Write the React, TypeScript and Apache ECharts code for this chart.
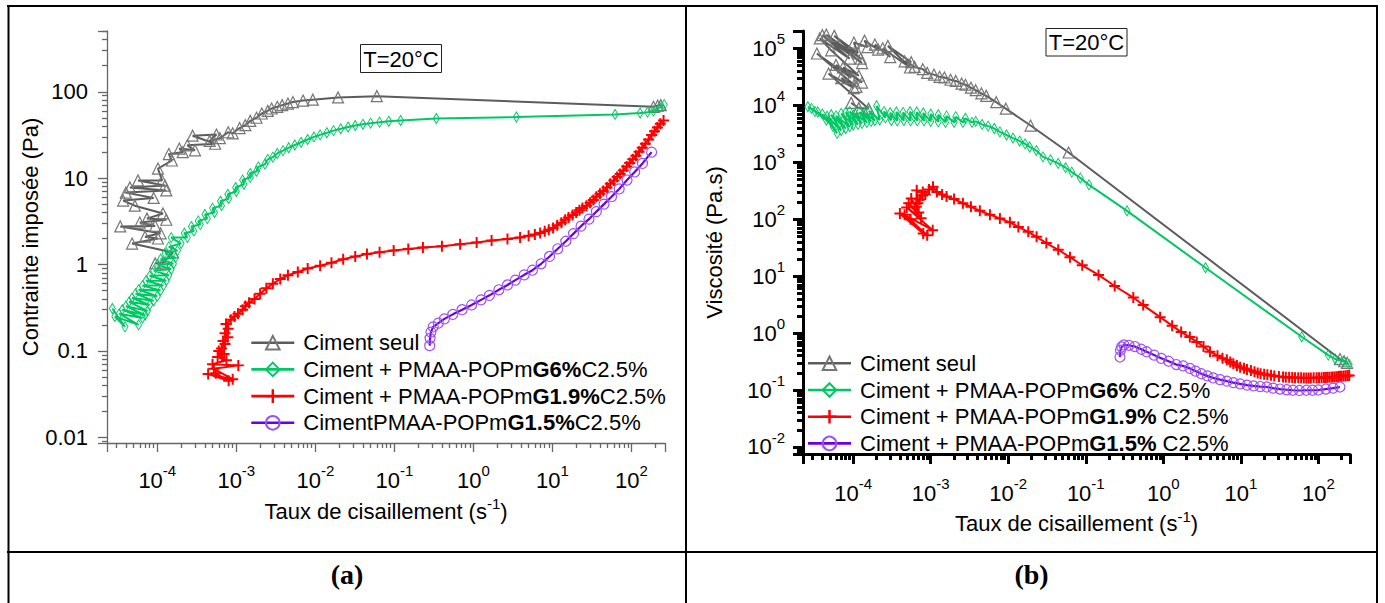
import React, { useEffect, useRef } from "react";
import * as echarts from "echarts";

// ---------------- data ----------------
const stressLegend = [
  "Ciment seul",
  "Ciment + PMAA-POPmG6%C2.5%",
  "Ciment + PMAA-POPmG1.9%C2.5%",
  "CimentPMAA-POPmG1.5%C2.5%",
];
const viscLegend = [
  "Ciment seul",
  "Ciment + PMAA-POPmG6% C2.5%",
  "Ciment + PMAA-POPmG1.9% C2.5%",
  "Ciment + PMAA-POPmG1.5% C2.5%",
];
const stressTickLabels = ["0.01", "0.1", "1", "10", "100"]; // 10^-2 .. 10^2
const xAxisTitle = "Taux de cisaillement (s";
const xAxisTitleSup = "-1";
const stressAxisTitle = "Contrainte imposée (Pa)";
const viscAxisTitle = "Viscosité (Pa.s)";
const tempLabel = "T=20°C";
const captions = ["(a)", "(b)"];

// shear rate (1/s), stress (Pa)
const stressCimentSeul: [number, number][] = [
  [9.4e-5, 1.03], [1.18e-4, 1.05], [1.58e-4, 1.38], [4.8e-5, 1.75], [1.02e-4, 2.0], [7.0e-5, 2.1],
  [1.1e-4, 2.3], [3.4e-5, 2.76], [9.4e-5, 2.8], [6.0e-5, 3.06], [1.3e-4, 3.3], [7.4e-5, 3.4],
  [1.18e-4, 3.9], [5.2e-5, 4.8], [3.7e-5, 5.5], [9.0e-5, 5.9], [4.0e-5, 6.8], [1.3e-4, 7.2],
  [4.5e-5, 7.8], [1.25e-4, 8.2], [5.7e-5, 9.4], [1.15e-4, 9.4], [1.02e-4, 12.9], [1.53e-4, 16],
  [1.4e-4, 19], [2.1e-4, 20], [1.9e-4, 22], [3.0e-4, 21], [2.4e-4, 24], [5.4e-4, 25],
  [2.8e-4, 31], [5.6e-4, 32], [4.6e-4, 27], [6.2e-4, 29], [7.9e-4, 34], [9.0e-4, 33],
  [1.1e-3, 38], [1.3e-3, 41], [1.5e-3, 46], [1.8e-3, 50], [2.1e-3, 56], [2.5e-3, 60],
  [2.8e-3, 64], [3.3e-3, 67], [3.8e-3, 70], [4.5e-3, 73], [5.2e-3, 76], [7.0e-3, 79],
  [9.3e-3, 81], [0.0194, 86], [0.06, 89], [190, 67], [215, 69], [235, 70],
];
const stressG6: [number, number][] = [
  [2.7e-5, 0.31], [3.9e-5, 0.19], [2.9e-5, 0.25], [5.8e-5, 0.2], [3.3e-5, 0.27], [6.5e-5, 0.24],
  [3.6e-5, 0.3], [7.0e-5, 0.26], [4.0e-5, 0.33], [7.5e-5, 0.29], [4.4e-5, 0.37], [8.0e-5, 0.34],
  [4.8e-5, 0.41], [9.0e-5, 0.38], [5.3e-5, 0.46], [1.0e-4, 0.43], [5.8e-5, 0.51], [1.1e-4, 0.5],
  [6.5e-5, 0.57], [1.2e-4, 0.57], [7.2e-5, 0.65], [1.3e-4, 0.65], [8.0e-5, 0.74], [1.4e-4, 0.75],
  [9.0e-5, 0.85], [1.5e-4, 0.88], [1.0e-4, 1.0], [1.6e-4, 1.02], [1.1e-4, 1.15], [1.7e-4, 1.2],
  [1.25e-4, 1.35], [1.8e-4, 1.45], [1.4e-4, 1.6], [2.0e-4, 1.75], [1.5e-4, 2.05], [2.4e-4, 2.05],
  [2.2e-4, 2.3], [2.9e-4, 2.45], [2.7e-4, 2.75], [3.5e-4, 2.9], [3.3e-4, 3.2], [4.3e-4, 3.4],
  [4.0e-4, 3.8], [5.3e-4, 4.0], [5.0e-4, 4.5], [6.5e-4, 4.8], [6.3e-4, 5.4], [8.0e-4, 5.8],
  [7.8e-4, 6.5], [1.0e-3, 7.0], [9.8e-4, 7.8], [1.25e-3, 8.5], [1.2e-3, 9.5], [1.5e-3, 10.2],
  [1.5e-3, 11.3], [1.8e-3, 12.0], [1.9e-3, 13.5], [2.3e-3, 14.5], [2.5e-3, 16.5], [2.9e-3, 17.5],
  [3.3e-3, 19.3], [3.9e-3, 20.8], [4.6e-3, 22.5], [5.5e-3, 24.2], [6.6e-3, 26], [8.0e-3, 28],
  [9.6e-3, 30], [0.0115, 31.7], [0.014, 33.5], [0.017, 35.5], [0.021, 37.3], [0.026, 39],
  [0.032, 40.7], [0.04, 42], [0.05, 43.3], [0.065, 44.5], [0.085, 45.5], [0.12, 46.5],
  [0.34, 49], [3.5, 51], [62, 54.6], [129, 56.7], [160, 58], [190, 60], [230, 66], [260, 71],
];
const stressG19: [number, number][] = [
  [5.5e-4, 0.055], [8.0e-4, 0.045], [4.4e-4, 0.054], [9.0e-4, 0.047], [5.2e-4, 0.062], [1.06e-3, 0.068],
  [5.0e-4, 0.07], [7.5e-4, 0.078], [5.8e-4, 0.085], [7.0e-4, 0.092], [6.0e-4, 0.1], [6.5e-4, 0.107],
  [7.2e-4, 0.12], [6.8e-4, 0.13], [7.8e-4, 0.144], [7.2e-4, 0.16], [7.9e-4, 0.18], [7.4e-4, 0.205],
  [8.5e-4, 0.23], [9.5e-4, 0.25], [1.05e-3, 0.27], [1.2e-3, 0.3], [1.3e-3, 0.33], [1.45e-3, 0.36],
  [1.7e-3, 0.4], [2.0e-3, 0.46], [2.4e-3, 0.53], [2.9e-3, 0.6], [3.6e-3, 0.68], [4.5e-3, 0.75],
  [6.0e-3, 0.82], [8.0e-3, 0.9], [0.0115, 0.97], [0.016, 1.05], [0.0225, 1.15], [0.032, 1.24],
  [0.045, 1.32], [0.065, 1.39], [0.098, 1.45], [0.15, 1.51], [0.23, 1.57], [0.4, 1.63],
  [0.68, 1.72], [1.1, 1.8], [1.7, 1.9], [2.7, 1.98], [3.9, 2.05], [5.0, 2.15], [6.0, 2.23],
  [7.0, 2.32], [8.0, 2.42], [9.0, 2.52], [10.2, 2.65], [11.5, 2.85], [13, 3.05], [14.5, 3.3],
  [16, 3.5], [18, 3.75], [20, 4.0], [22, 4.25], [24, 4.5], [27, 4.8], [30, 5.2], [33, 5.6],
  [36, 6.1], [40, 6.6], [44, 7.1], [49, 7.8], [54, 8.6], [60, 9.4], [66, 10.3], [72, 11.2],
  [79, 12.3], [87, 13.6], [95, 15], [104, 16.5], [114, 18.2], [125, 20.2], [137, 22.5],
  [150, 25], [165, 28], [180, 31.5], [196, 35], [213, 38.5], [232, 42.5], [255, 46.5],
];
const stressG15: [number, number][] = [
  [0.28, 0.115], [0.283, 0.14], [0.29, 0.165], [0.31, 0.19], [0.36, 0.21], [0.43, 0.235],
  [0.55, 0.265], [0.72, 0.3], [0.95, 0.34], [1.25, 0.39], [1.6, 0.44], [2.1, 0.51], [2.7, 0.58],
  [3.4, 0.66], [4.4, 0.76], [5.6, 0.86], [7.2, 1.02], [9.2, 1.24], [11.7, 1.52], [14.8, 1.86],
  [18.5, 2.28], [23, 2.78], [29, 3.35], [36, 4.1], [45, 5.0], [56, 6.1], [70, 7.5], [88, 9.5],
  [110, 11.8], [138, 14.8], [180, 20],
];

// shear rate (1/s), viscosity (Pa.s)
const viscCimentSeul: [number, number][] = [
  [9.4e-5, 1.1e4], [1.18e-4, 8.9e3], [1.58e-4, 8.7e3], [4.8e-5, 3.6e4], [1.02e-4, 2.0e4], [7.0e-5, 3.0e4],
  [1.1e-4, 2.1e4], [3.4e-5, 8.1e4], [9.4e-5, 3.0e4], [6.0e-5, 5.1e4], [1.3e-4, 2.5e4], [7.4e-5, 4.6e4],
  [1.18e-4, 3.3e4], [5.2e-5, 9.2e4], [3.7e-5, 1.49e5], [9.0e-5, 6.6e4], [4.0e-5, 1.7e5], [1.3e-4, 5.5e4],
  [4.5e-5, 1.73e5], [1.25e-4, 6.6e4], [5.7e-5, 1.65e5], [1.15e-4, 8.2e4], [1.02e-4, 1.26e5], [1.53e-4, 1.05e5],
  [1.4e-4, 1.36e5], [2.1e-4, 9.5e4], [1.9e-4, 1.16e5], [3.0e-4, 7.0e4], [2.4e-4, 1.0e5], [5.4e-4, 4.6e4],
  [2.8e-4, 1.1e5], [5.6e-4, 5.7e4], [4.6e-4, 5.9e4], [6.2e-4, 4.7e4], [7.9e-4, 4.3e4], [9.0e-4, 3.7e4],
  [1.1e-3, 3.45e4], [1.3e-3, 3.15e4], [1.5e-3, 3.07e4], [1.8e-3, 2.8e4], [2.1e-3, 2.67e4], [2.5e-3, 2.4e4],
  [2.8e-3, 2.29e4], [3.3e-3, 2.03e4], [3.8e-3, 1.84e4], [4.5e-3, 1.62e4], [5.2e-3, 1.46e4], [7.0e-3, 1.13e4],
  [9.3e-3, 8.7e3], [0.0194, 4.4e3], [0.06, 1.48e3], [190, 0.35], [215, 0.32], [235, 0.3],
];
const viscG6: [number, number][] = [
  [2.6e-5, 9.4e3], [3.2e-5, 7.8e3], [2.9e-5, 8.8e3], [4.5e-5, 5.5e3], [3.5e-5, 7.6e3], [5.5e-5, 4.2e3],
  [4.0e-5, 7.0e3], [6.2e-5, 3.2e3], [4.6e-5, 6.4e3], [7.0e-5, 3.6e3], [5.2e-5, 6.8e3], [8.0e-5, 3.9e3],
  [6.0e-5, 6.5e3], [9.0e-5, 4.2e3], [7.0e-5, 7.2e3], [1.0e-4, 4.5e3], [8.0e-5, 7.5e3], [1.15e-4, 4.6e3],
  [9.0e-5, 7.8e3], [1.3e-4, 4.8e3], [1.05e-4, 7.2e3], [1.5e-4, 5.0e3], [1.2e-4, 7.6e3], [1.7e-4, 5.2e3],
  [1.4e-4, 7.4e3], [1.9e-4, 5.4e3], [1.6e-4, 8.0e3], [2.2e-4, 5.5e3], [2.0e-4, 9.8e3], [2.6e-4, 6.0e3],
  [2.5e-4, 7.8e3], [3.1e-4, 5.4e3], [3.0e-4, 7.4e3], [3.7e-4, 5.3e3], [3.6e-4, 7.6e3], [4.5e-4, 5.4e3],
  [4.4e-4, 7.5e3], [5.5e-4, 5.3e3], [5.4e-4, 7.7e3], [6.7e-4, 5.3e3], [6.6e-4, 7.6e3], [8.2e-4, 5.3e3],
  [8.0e-4, 7.3e3], [1.0e-3, 5.2e3], [1.0e-3, 7.0e3], [1.25e-3, 5.1e3], [1.25e-3, 6.8e3], [1.55e-3, 5.0e3],
  [1.6e-3, 6.5e3], [2.0e-3, 5.0e3], [2.1e-3, 6.3e3], [2.6e-3, 5.0e3], [2.8e-3, 5.9e3], [3.4e-3, 5.0e3],
  [3.8e-3, 5.2e3], [4.6e-3, 4.6e3], [5.5e-3, 4.3e3], [6.6e-3, 3.9e3], [7.8e-3, 3.4e3], [9.5e-3, 3.0e3],
  [0.0115, 2.65e3], [0.014, 2.35e3], [0.0165, 2.1e3], [0.0189, 1.85e3], [0.023, 1.6e3], [0.028, 1.24e3],
  [0.035, 1.1e3], [0.044, 950], [0.055, 800], [0.066, 670], [0.085, 530], [0.11, 400], [0.34, 140],
  [3.5, 14], [61, 0.86], [134, 0.41], [165, 0.35], [210, 0.32], [250, 0.28],
];
const viscG19: [number, number][] = [
  [5.5e-4, 100], [8.0e-4, 56], [4.0e-4, 126], [9.0e-4, 52], [4.6e-4, 119], [1.06e-3, 64],
  [4.9e-4, 160], [7.5e-4, 104], [5.2e-4, 190], [7.0e-4, 131], [5.6e-4, 230], [6.5e-4, 165],
  [6.6e-4, 320], [6.8e-4, 191], [7.8e-4, 260], [7.2e-4, 222], [7.9e-4, 300], [8.5e-4, 270],
  [9.5e-4, 330], [1.07e-3, 370], [1.2e-3, 300], [1.4e-3, 270], [1.6e-3, 250], [2.0e-3, 225],
  [2.6e-3, 190], [3.3e-3, 165], [4.3e-3, 140], [5.8e-3, 120], [7.8e-3, 103], [0.0105, 88],
  [0.0135, 73], [0.0181, 60], [0.0232, 49], [0.031, 38], [0.0441, 29], [0.0625, 21.5],
  [0.09, 15.5], [0.146, 10.5], [0.236, 6.7], [0.41, 4.2], [0.55, 3.1], [0.91, 1.9], [1.3, 1.35],
  [1.7, 1.04], [2.2, 0.85], [2.7, 0.7], [3.3, 0.58], [4.0, 0.47], [5.0, 0.4], [5.8, 0.36],
  [6.6, 0.34], [7.3, 0.31], [8.0, 0.29], [8.9, 0.27], [9.8, 0.25], [11, 0.24], [12, 0.23],
  [13.5, 0.22], [15, 0.21], [16.5, 0.2], [18, 0.194], [20, 0.189], [22, 0.185], [24.5, 0.181],
  [27, 0.177], [31, 0.173], [35, 0.17], [38, 0.168], [42, 0.167], [46, 0.166], [50, 0.165],
  [55, 0.164], [60, 0.164], [65, 0.163], [70, 0.163], [75, 0.163], [80, 0.163], [87, 0.164],
  [95, 0.164], [102, 0.165], [110, 0.165], [118, 0.166], [125, 0.166], [132, 0.167], [140, 0.168],
  [150, 0.169], [160, 0.17], [170, 0.171], [180, 0.172], [190, 0.174], [200, 0.175], [212, 0.177],
  [225, 0.178], [238, 0.179], [250, 0.18],
];
const viscG15: [number, number][] = [
  [0.276, 0.38], [0.28, 0.5], [0.29, 0.57], [0.31, 0.62], [0.36, 0.61], [0.43, 0.58], [0.52, 0.52],
  [0.61, 0.47], [0.76, 0.41], [0.94, 0.36], [1.17, 0.32], [1.47, 0.28], [1.8, 0.265], [2.2, 0.24],
  [2.6, 0.215], [3.1, 0.193], [3.7, 0.177], [4.4, 0.163], [5.4, 0.152], [6.6, 0.143], [8.0, 0.135],
  [9.8, 0.128], [12, 0.122], [14.6, 0.118], [17.8, 0.115], [21.6, 0.113], [26, 0.108], [32, 0.104],
  [39, 0.101], [47, 0.099], [57, 0.098], [70, 0.099], [84, 0.099], [100, 0.1], [125, 0.104],
  [155, 0.108], [190, 0.113],
];

// ---------------- styling ----------------
const FONT = '"Liberation Sans", Arial, sans-serif';
const SERIF = '"Liberation Serif", "Times New Roman", serif';
const GRAY = "#5c5c5c";
const GRAY_MK = "#767676";
const GREEN = "#00c864";
const RED = "#ff0000";
const PURPLE = "#6a00e4";
const PURPLE_MK = "#9b52f4";
const PLUS = "path://M4.1 0H5.9V4.1H10V5.9H5.9V10H4.1V5.9H0V4.1H4.1Z";

const isPow = (v: number) => Math.abs(Math.log10(v) - Math.round(Math.log10(v))) < 1e-6;
const expOf = (v: number) => Math.round(Math.log10(v));

const supRich = {
  b: { fontFamily: FONT, fontSize: 22, lineHeight: 34, color: "#000" },
  s: { fontFamily: FONT, fontSize: 15, lineHeight: 15, verticalAlign: "top", color: "#000" },
};
const supFormatter = (v: number) => (isPow(v) ? `{b|10}{s|${expOf(v)}}` : "");

const nameRich = {
  t: { fontFamily: FONT, fontSize: 22, lineHeight: 30, color: "#000" },
  s: { fontFamily: FONT, fontSize: 15, lineHeight: 15, verticalAlign: "top", color: "#000" },
};
const xName = `{t|${xAxisTitle}}{s|${xAxisTitleSup}}{t|)}`;

const legendRich = (name: string) => {
  const m = name.match(/^(.*?)(G[\d.]+%)(.*)$/);
  if (!m) return `{n|${name}}`;
  return `{n|${m[1]}}{b|${m[2]}}{n|${m[3]}}`;
};

function axisStyle(color: string, width: number, major: number, minor: number) {
  return {
    axisLine: { show: true, onZero: false, lineStyle: { color, width } },
    axisTick: { show: true, inside: false, length: major, lineStyle: { color, width } },
    minorTick: { show: true, splitNumber: 9, length: minor, lineStyle: { color, width } },
    splitLine: { show: false },
    minorSplitLine: { show: false },
  };
}

function mkSeries(name: string, data: [number, number][], idx: number, kind: string) {
  const base: any = {
    type: "line",
    name,
    data,
    xAxisIndex: idx,
    yAxisIndex: idx,
    silent: true,
    animation: false,
    emphasis: { disabled: true },
    showSymbol: true,
  };
  if (kind === "tri") {
    return { ...base, symbol: "triangle", symbolSize: 11, lineStyle: { color: GRAY, width: 2 },
      itemStyle: { color: "rgba(255,255,255,0)", borderColor: GRAY_MK, borderWidth: 1.2 }, z: 2 };
  }
  if (kind === "dia") {
    return { ...base, symbol: "diamond", symbolSize: [6, 10], lineStyle: { color: GREEN, width: 2 },
      itemStyle: { color: "rgba(255,255,255,0)", borderColor: GREEN, borderWidth: 1 }, z: 3 };
  }
  if (kind === "plus") {
    return { ...base, symbol: PLUS, symbolSize: 11, lineStyle: { color: RED, width: 2 },
      itemStyle: { color: RED, borderWidth: 0 }, z: 4 };
  }
  return { ...base, symbol: "circle", symbolSize: 10, lineStyle: { color: PURPLE, width: 2.2 },
    itemStyle: { color: "rgba(255,255,255,0)", borderColor: PURPLE_MK, borderWidth: 1.2 }, z: 5 };
}

export default function App() {
  const ref = useRef<HTMLDivElement>(null);
  useEffect(() => {
    if (!ref.current) return;
    const chart = echarts.init(ref.current, undefined, { renderer: "svg" });
    const legendText = {
      fontFamily: FONT,
      fontSize: 22,
      color: "#000",
      lineHeight: 22,
      padding: [0, 0, 0, 4],
      rich: {
        n: { fontFamily: FONT, fontSize: 22, lineHeight: 22, color: "#000" },
        b: { fontFamily: FONT, fontSize: 22, lineHeight: 22, fontWeight: "bold", color: "#000" },
      },
    };
    const line = (x1: number, y1: number, x2: number, y2: number) => ({
      type: "line",
      shape: { x1, y1, x2, y2 },
      style: { stroke: "#000", lineWidth: 2 },
      silent: true,
    });
    const option: any = {
      animation: false,
      backgroundColor: "#fff",
      grid: [
        { left: 107, top: 31, width: 558, height: 412, outerBoundsMode: "none", containLabel: false },
        { left: 803, top: 31, width: 547, height: 423, outerBoundsMode: "none", containLabel: false },
      ],
      xAxis: [
        {
          type: "log", logBase: 10, gridIndex: 0, min: 2.31e-5, max: 266,
          ...axisStyle("#666", 1.3, 9, 5),
          axisLabel: { formatter: supFormatter, rich: supRich, margin: 20, showMinLabel: false, showMaxLabel: false },
          name: xName, nameLocation: "middle", nameGap: 53, nameTextStyle: { rich: nameRich },
        },
        {
          type: "log", logBase: 10, gridIndex: 1, min: 2.25e-5, max: 256,
          ...axisStyle("#000", 3, 10, 6),
          axisLabel: { formatter: supFormatter, rich: supRich, margin: 22, showMinLabel: false, showMaxLabel: false },
          name: xName, nameLocation: "middle", nameGap: 52, nameTextStyle: { rich: nameRich },
        },
      ],
      yAxis: [
        {
          type: "log", logBase: 10, gridIndex: 0, min: 0.00859, max: 505,
          ...axisStyle("#666", 1.3, 9, 5),
          axisLabel: {
            formatter: (v: number) => (isPow(v) ? stressTickLabels[expOf(v) + 2] ?? "" : ""),
            fontFamily: FONT, fontSize: 22, color: "#000", margin: 19,
            showMinLabel: false, showMaxLabel: false,
          },
          name: stressAxisTitle, nameLocation: "middle", nameGap: 59,
          nameTextStyle: { fontFamily: FONT, fontSize: 22, color: "#000" },
        },
        {
          type: "log", logBase: 10, gridIndex: 1, min: 0.00753, max: 2.01e5,
          ...axisStyle("#000", 3, 10, 6),
          axisLabel: { formatter: supFormatter, rich: supRich, margin: 18, showMinLabel: false, showMaxLabel: false },
          name: viscAxisTitle, nameLocation: "middle", nameGap: 78,
          nameTextStyle: { fontFamily: FONT, fontSize: 22, color: "#000" },
        },
      ],
      legend: [
        {
          orient: "vertical", left: 250, top: 331.7, padding: 0, itemGap: 4.7,
          itemWidth: 43, itemHeight: 17, selectedMode: false, data: stressLegend,
          formatter: legendRich, textStyle: legendText, lineStyle: { width: 2.6 },
        },
        {
          orient: "vertical", left: 806.7, top: 352.3, padding: 0, itemGap: 4.7,
          itemWidth: 43, itemHeight: 17, selectedMode: false, data: viscLegend,
          formatter: legendRich, textStyle: legendText, lineStyle: { width: 2.6 },
        },
      ],
      series: [
        mkSeries(stressLegend[0], stressCimentSeul, 0, "tri"),
        mkSeries(stressLegend[1], stressG6, 0, "dia"),
        mkSeries(stressLegend[2], stressG19, 0, "plus"),
        mkSeries(stressLegend[3], stressG15, 0, "circ"),
        mkSeries(viscLegend[0], viscCimentSeul, 1, "tri"),
        mkSeries(viscLegend[1], viscG6, 1, "dia"),
        mkSeries(viscLegend[2], viscG19, 1, "plus"),
        mkSeries(viscLegend[3], viscG15, 1, "circ"),
      ],
      graphic: [
        line(7, 6, 1378, 6),
        line(8.5, 5, 8.5, 603),
        line(686, 5, 686, 603),
        line(1377, 5, 1377, 603),
        line(7, 552, 1378, 552),
        { type: "rect", shape: { x: 360.5, y: 44.5, width: 81, height: 28 },
          style: { fill: "#fff", stroke: "#222", lineWidth: 1 }, silent: true, z: 10 },
        { type: "text", x: 401, y: 59, style: { text: tempLabel, font: `22px ${FONT}`, fill: "#000",
          textAlign: "center", textVerticalAlign: "middle" }, silent: true, z: 11 },
        { type: "rect", shape: { x: 1046, y: 28.5, width: 81, height: 27.5 },
          style: { fill: "#fff", stroke: "#222", lineWidth: 1 }, silent: true, z: 10 },
        { type: "text", x: 1086.5, y: 42.5, style: { text: tempLabel, font: `22px ${FONT}`, fill: "#000",
          textAlign: "center", textVerticalAlign: "middle" }, silent: true, z: 11 },
        { type: "text", x: 347, y: 574, style: { text: captions[0], font: `bold 28px ${SERIF}`, fill: "#000",
          textAlign: "center", textVerticalAlign: "middle" }, silent: true },
        { type: "text", x: 1031.5, y: 574, style: { text: captions[1], font: `bold 28px ${SERIF}`, fill: "#000",
          textAlign: "center", textVerticalAlign: "middle" }, silent: true },
      ],
    };
    chart.setOption(option);
    return () => chart.dispose();
  }, []);
  return (
    <div
      ref={ref}
      style={{ position: "fixed", left: 0, top: 0, width: 1385, height: 603, background: "#fff" }}
    />
  );
}
